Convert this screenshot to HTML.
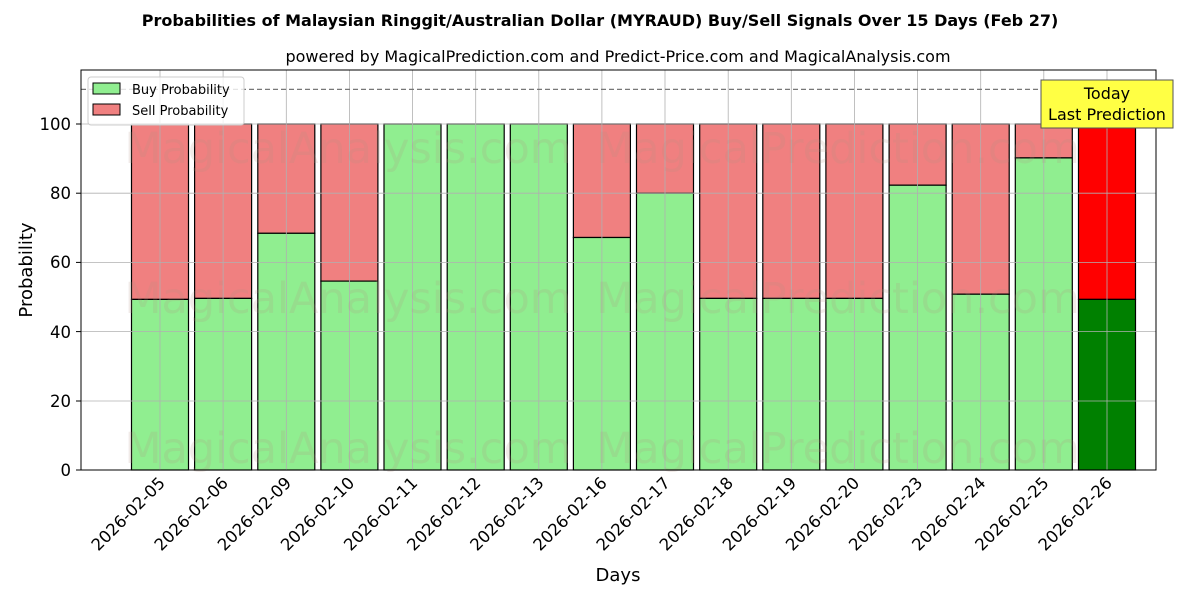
<!DOCTYPE html>
<html><head><meta charset="utf-8"><style>body{margin:0;background:#fff}svg{display:block;font-family:"DejaVu Sans","Liberation Sans",sans-serif}</style></head><body>
<svg width="1200" height="600" viewBox="0 0 1200 600" xmlns="http://www.w3.org/2000/svg">
<rect width="1200" height="600" fill="#fff"/>
<text x="600" y="26" text-anchor="middle" font-size="16" font-weight="bold">Probabilities of Malaysian Ringgit/Australian Dollar (MYRAUD) Buy/Sell Signals Over 15 Days (Feb 27)</text>
<text x="618" y="62" text-anchor="middle" font-size="16">powered by MagicalPrediction.com and Predict-Price.com and MagicalAnalysis.com</text>
<g stroke="#000" stroke-width="1.2">
<rect x="131.5" y="124" width="57" height="175.4" fill="#f08080"/><rect x="131.5" y="299.4" width="57" height="170.6" fill="#90ee90"/>
<rect x="194.6" y="124" width="57" height="174.4" fill="#f08080"/><rect x="194.6" y="298.4" width="57" height="171.6" fill="#90ee90"/>
<rect x="257.8" y="124" width="57" height="109.3" fill="#f08080"/><rect x="257.8" y="233.3" width="57" height="236.7" fill="#90ee90"/>
<rect x="320.9" y="124" width="57" height="157.1" fill="#f08080"/><rect x="320.9" y="281.1" width="57" height="188.9" fill="#90ee90"/>
<rect x="384" y="124" width="57" height="346" fill="#90ee90"/>
<rect x="447.2" y="124" width="57" height="346" fill="#90ee90"/>
<rect x="510.3" y="124" width="57" height="346" fill="#90ee90"/>
<rect x="573.4" y="124" width="57" height="113.5" fill="#f08080"/><rect x="573.4" y="237.5" width="57" height="232.5" fill="#90ee90"/>
<rect x="636.5" y="124" width="57" height="69.2" fill="#f08080"/><rect x="636.5" y="193.2" width="57" height="276.8" fill="#90ee90"/>
<rect x="699.7" y="124" width="57" height="174.4" fill="#f08080"/><rect x="699.7" y="298.4" width="57" height="171.6" fill="#90ee90"/>
<rect x="762.8" y="124" width="57" height="174.4" fill="#f08080"/><rect x="762.8" y="298.4" width="57" height="171.6" fill="#90ee90"/>
<rect x="825.9" y="124" width="57" height="174.4" fill="#f08080"/><rect x="825.9" y="298.4" width="57" height="171.6" fill="#90ee90"/>
<rect x="889.1" y="124" width="57" height="61.2" fill="#f08080"/><rect x="889.1" y="185.2" width="57" height="284.8" fill="#90ee90"/>
<rect x="952.2" y="124" width="57" height="170.2" fill="#f08080"/><rect x="952.2" y="294.2" width="57" height="175.8" fill="#90ee90"/>
<rect x="1015.3" y="124" width="57" height="33.9" fill="#f08080"/><rect x="1015.3" y="157.9" width="57" height="312.1" fill="#90ee90"/>
<rect x="1078.5" y="124" width="57" height="175.4" fill="#ff0000"/><rect x="1078.5" y="299.4" width="57" height="170.6" fill="#008000"/>
</g>
<g stroke="#b0b0b0" stroke-width="0.8">
<line x1="81" x2="1156" y1="401" y2="401"/><line x1="81" x2="1156" y1="331.6" y2="331.6"/><line x1="81" x2="1156" y1="262.4" y2="262.4"/><line x1="81" x2="1156" y1="193.2" y2="193.2"/><line x1="81" x2="1156" y1="124" y2="124"/>
<line x1="160" x2="160" y1="70" y2="470"/><line x1="223.1" x2="223.1" y1="70" y2="470"/><line x1="286.3" x2="286.3" y1="70" y2="470"/><line x1="349.4" x2="349.4" y1="70" y2="470"/><line x1="412.5" x2="412.5" y1="70" y2="470"/><line x1="475.7" x2="475.7" y1="70" y2="470"/><line x1="538.8" x2="538.8" y1="70" y2="470"/><line x1="601.9" x2="601.9" y1="70" y2="470"/><line x1="665" x2="665" y1="70" y2="470"/><line x1="728.2" x2="728.2" y1="70" y2="470"/><line x1="791.3" x2="791.3" y1="70" y2="470"/><line x1="854.4" x2="854.4" y1="70" y2="470"/><line x1="917.6" x2="917.6" y1="70" y2="470"/><line x1="980.7" x2="980.7" y1="70" y2="470"/><line x1="1043.8" x2="1043.8" y1="70" y2="470"/><line x1="1107" x2="1107" y1="70" y2="470"/>
</g>
<g font-size="43" fill="#b09080" fill-opacity="0.18" text-anchor="middle">
<text x="348" y="163">MagicalAnalysis.com</text><text x="838" y="163">MagicalPrediction.com</text>
<text x="348" y="313">MagicalAnalysis.com</text><text x="838" y="313">MagicalPrediction.com</text>
<text x="348" y="463">MagicalAnalysis.com</text><text x="838" y="463">MagicalPrediction.com</text>
</g>
<line x1="81" x2="1156" y1="89.4" y2="89.4" stroke="#777" stroke-width="1.2" stroke-dasharray="5,3"/>
<rect x="81" y="70" width="1075" height="400" fill="none" stroke="#000" stroke-width="1"/>
<g font-size="16.5" text-anchor="end">
<text x="71" y="476">0</text><text x="71" y="407">20</text><text x="71" y="338">40</text><text x="71" y="268">60</text><text x="71" y="199">80</text><text x="71" y="130">100</text>
</g>
<g stroke="#000"><line x1="76" x2="81" y1="470" y2="470"/><line x1="76" x2="81" y1="401" y2="401"/><line x1="76" x2="81" y1="331.6" y2="331.6"/><line x1="76" x2="81" y1="262.4" y2="262.4"/><line x1="76" x2="81" y1="193.2" y2="193.2"/><line x1="76" x2="81" y1="124" y2="124"/></g>
<g font-size="16.5" text-anchor="end">
<text transform="translate(166,484) rotate(-45)">2026-02-05</text><text transform="translate(229.1,484) rotate(-45)">2026-02-06</text><text transform="translate(292.3,484) rotate(-45)">2026-02-09</text><text transform="translate(355.4,484) rotate(-45)">2026-02-10</text><text transform="translate(418.5,484) rotate(-45)">2026-02-11</text><text transform="translate(481.7,484) rotate(-45)">2026-02-12</text><text transform="translate(544.8,484) rotate(-45)">2026-02-13</text><text transform="translate(607.9,484) rotate(-45)">2026-02-16</text><text transform="translate(671,484) rotate(-45)">2026-02-17</text><text transform="translate(734.2,484) rotate(-45)">2026-02-18</text><text transform="translate(797.3,484) rotate(-45)">2026-02-19</text><text transform="translate(860.4,484) rotate(-45)">2026-02-20</text><text transform="translate(923.6,484) rotate(-45)">2026-02-23</text><text transform="translate(986.7,484) rotate(-45)">2026-02-24</text><text transform="translate(1049.8,484) rotate(-45)">2026-02-25</text><text transform="translate(1113,484) rotate(-45)">2026-02-26</text>
</g>
<text x="618" y="581" text-anchor="middle" font-size="18">Days</text>
<text transform="translate(32,270) rotate(-90)" text-anchor="middle" font-size="18">Probability</text>
<rect x="88" y="77" width="156" height="48" fill="#fff" fill-opacity="0.8" stroke="#ccc" rx="3"/>
<rect x="93" y="83" width="27" height="11" fill="#90ee90" stroke="#000"/><text x="132" y="94" font-size="13">Buy Probability</text>
<rect x="93" y="104" width="27" height="11" fill="#f08080" stroke="#000"/><text x="132" y="115" font-size="13">Sell Probability</text>
<rect x="1041" y="80" width="132" height="48" fill="#ffff44" stroke="#555"/>
<text x="1107" y="99" text-anchor="middle" font-size="16">Today</text><text x="1107" y="120" text-anchor="middle" font-size="16">Last Prediction</text>
</svg>
</body></html>
